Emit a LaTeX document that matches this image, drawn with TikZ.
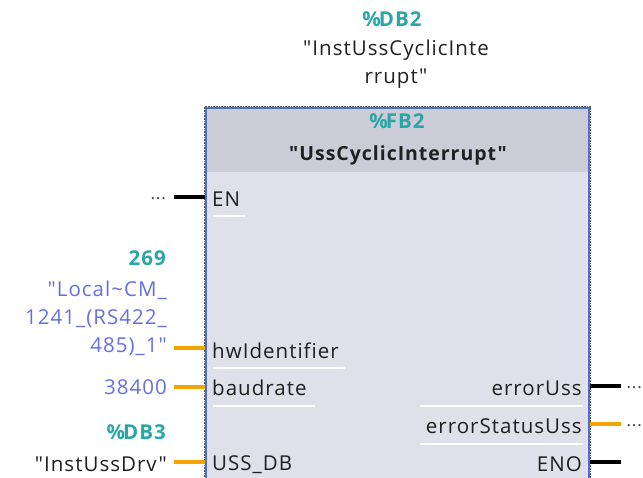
\documentclass[tikz,border=0pt]{standalone}
\usepackage{fontspec}
\setmainfont{Open Sans}[LetterSpace=5, Ligatures={NoCommon,TeXOff}]
\newcommand\qq{\symbol{34}}
\newcommand\pct{\%\kern-2pt}
\definecolor{teal1}{HTML}{2AA6A6}
\definecolor{blu1}{HTML}{6470E0}
\definecolor{txt}{HTML}{202020}
\definecolor{hdr}{HTML}{CBCCD8}
\definecolor{bodyc}{HTML}{DFE0E9}
\definecolor{bord}{HTML}{4A70D0}
\definecolor{orng}{HTML}{F5A300}
\tikzset{
  lbl/.style={inner sep=0pt, font=\fontsize{20.5}{28}\selectfont, text=txt},
  tl/.style={lbl, text=teal1, font=\fontsize{20.5}{28}\selectfont\bfseries},
  bl/.style={lbl, text=blu1},
  dots/.style={lbl, font=\fontsize{17}{20}\selectfont, text=black!75},
  bwire/.style={line width=3.2pt, black},
  owire/.style={line width=3.2pt, orng},
  uline/.style={line width=1.2pt, white},
}
\begin{document}
\begin{tikzpicture}[x=1pt,y=-1pt]
\useasboundingbox (0,0) rectangle (643,477);
\clip (0,0) rectangle (643,477);
% box
\fill[bodyc] (205,107) rectangle (590,500);
\fill[hdr] (205,107) rectangle (590,172);
\draw[bord, line width=1.6pt] (206,108) rectangle (589,500);
\draw[gray!70!black, line width=0.6pt, densely dotted] (204.5,106.5) rectangle (590.5,500);
% header texts
\node[tl] (db2) at (392,19) {\pct DB2};
\node[lbl, align=center] (inst) at (396,64) {\qq InstUssCyclicInte\\rrupt\qq};
\node[tl] (fb2) at (397,121) {\pct FB2};
\node[lbl, font=\fontsize{19.5}{28}\selectfont\bfseries] (title) at (398,155) {\qq UssCyclicInterrupt\qq};
% pins left
\node[lbl, anchor=west] (en) at (212,199) {EN};
\node[lbl, anchor=west] (hw) at (212,351) {hwIdentifier};
\node[lbl, anchor=west] (bd) at (212,388) {baudrate};
\node[lbl, anchor=west] (uss) at (212,465) {USS\_DB};
\draw[uline] (213,216) -- (245,216);
\draw[uline] (213,368) -- (345,368);
\draw[uline] (213,406) -- (315,406);
% pins right
\node[lbl, anchor=east] (eu) at (582,388) {errorUss};
\node[lbl, anchor=east] (esu) at (582,426) {errorStatusUss};
\node[lbl, anchor=east] (eno) at (582,464) {ENO};
\draw[uline] (420,406) -- (583,406);
\draw[uline] (420,444) -- (583,444);
% left operands
\node[dots, anchor=east] (endots) at (166,199) {...};
\node[tl, anchor=east] (n269) at (166,258) {269};
\node[bl, anchor=east, align=right] (loc) at (167,318) {\qq Local\textasciitilde CM\_\\1241\_(RS422\_\\485)\_1\qq};
\node[bl, anchor=east] (baud) at (167,387) {38400};
\node[tl, anchor=east] (db3) at (166,432) {\pct DB3};
\node[lbl, anchor=east] (idrv) at (167,464) {\qq InstUssDrv\qq};
% right operands
\node[dots, anchor=east] (eudots) at (642,388) {...};
\node[dots, anchor=east] (esudots) at (642,426) {...};
% wires
\coordinate (pen) at (205,197);
\coordinate (phw) at (205,348);
\coordinate (pbd) at (205,387);
\coordinate (puss) at (205,462);
\coordinate (peu) at (590,386);
\coordinate (pesu) at (590,424);
\coordinate (peno) at (590,462);
\draw[bwire] (174,197) -- (pen);
\draw[owire] (174,348) -- (phw);
\draw[owire] (174,387) -- (pbd);
\draw[owire] (174,462) -- (puss);
\draw[bwire] (peu) -- (621,386);
\draw[owire] (pesu) -- (621,424);
\draw[bwire] (peno) -- (621,462);
\end{tikzpicture}
\end{document}
